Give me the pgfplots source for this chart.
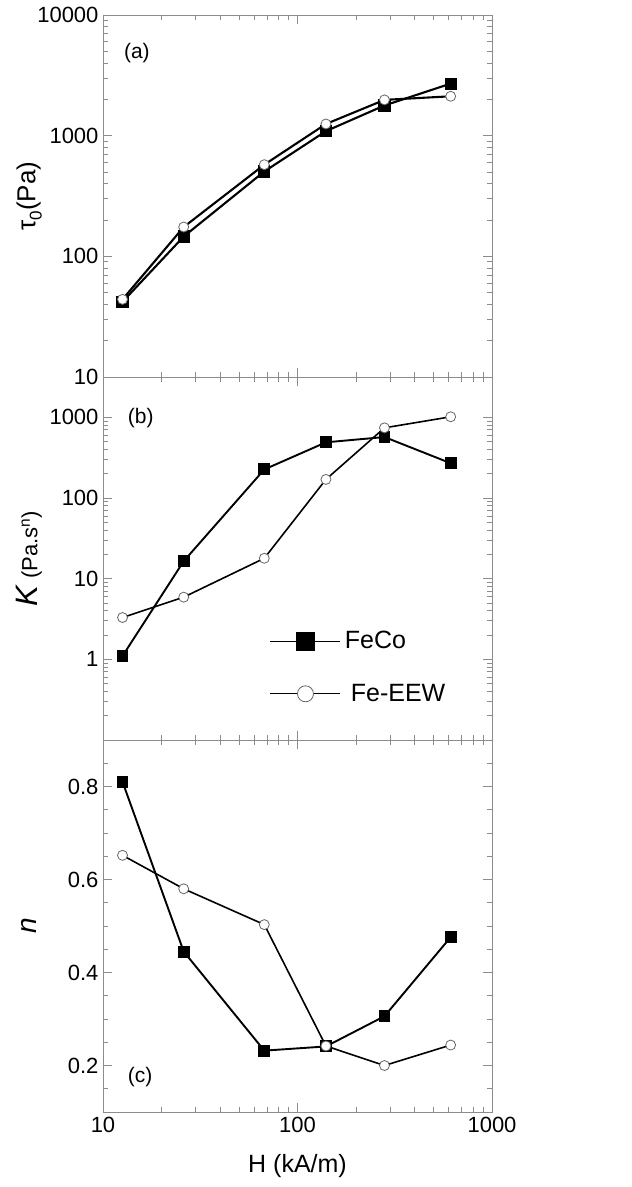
\documentclass[border=0pt]{standalone}
\usepackage{fontspec}
\setmainfont{Liberation Sans}
\usepackage{pgfplots}
\pgfplotsset{compat=1.18}
\definecolor{framegray}{gray}{0.55}
\pgfplotsset{
  panel/.style={
    scale only axis, width=389pt,
    xmin=10, xmax=1000,
    xtick={10,100,1000},
    axis line style={framegray, line width=1pt},
    tick style={framegray, line width=0.8pt},
    tick align=inside,
    major tick length=9pt, minor tick length=5pt,
    ticklabel style={font=\fontsize{22}{24}\selectfont, black},
    yticklabel style={xshift=-1pt},
    ylabel style={at={(axis description cs:-0.19,0.5)}, anchor=center},
    clip=false,
  },
  feco/.style={black, line width=1.9pt, mark=square*, mark size=5pt, mark options={solid, fill=black, draw=black},
    legend image code/.code={\draw[mark repeat=2, mark phase=2, ##1, line width=0.8pt, mark size=9pt] plot coordinates {(0pt,0pt) (35pt,0pt) (70pt,0pt)};}},
  eew/.style={black, line width=1.6pt, mark=*, mark size=5pt, mark options={solid, fill=white, draw=black!60, line width=0.8pt},
    legend image code/.code={\draw[mark repeat=2, mark phase=2, ##1, line width=0.8pt, mark size=8pt] plot coordinates {(0pt,0pt) (35pt,0pt) (70pt,0pt)};}},
}
\begin{document}
\begin{tikzpicture}
\useasboundingbox (-103pt,15pt) rectangle (529pt,-1172pt);
% ---------- (a)
\begin{axis}[xmode=log, ymode=log, panel, at={(0pt,0pt)}, anchor=north west, height=362pt,
  ymin=10, ymax=10000,
  ytick={10,100,1000,10000}, yticklabels={10,100,1000,10000},
  xticklabels={},
  ylabel={\fontsize{26}{28}\selectfont τ\raisebox{-0.45ex}{\fontsize{17}{17}\selectfont 0}(Pa)}]
\addplot[feco, line width=2.1pt] coordinates {(12.6,42) (26,146) (67.5,505) (140,1090) (280,1780) (613,2700)};
\addplot[eew, line width=2.1pt] coordinates {(12.6,44) (26,175) (67.5,575) (140,1250) (280,1980) (613,2120)};
\node[anchor=west, font=\fontsize{21}{24}\selectfont] at (axis description cs:0.045,0.895) {(a)};
\end{axis}
% ---------- (b)
\begin{axis}[xmode=log, ymode=log, panel, at={(0pt,-362pt)}, anchor=north west, height=363pt,
  ymin=0.1, ymax=3162,
  ytick={0.1,1,10,100,1000}, yticklabels={,1,10,100,1000},
  xticklabels={},
  ylabel={{\fontsize{31}{32}\selectfont\itshape K}\hspace{7pt}{\fontsize{22}{24}\selectfont(Pa.s\textsuperscript{n})}},
  legend style={at={(rel axis cs:0.429,0.305)}, anchor=north west, draw=none, fill=none, inner sep=0pt,
    font=\fontsize{25}{28}\selectfont, row sep=30pt, cells={anchor=west}},
  legend cell align=left]
\addplot[feco] coordinates {(12.6,1.1) (26,16.5) (67.5,226) (140,490) (280,570) (613,270)};
\addlegendentry{\hspace{2pt}FeCo}
\addplot[eew] coordinates {(12.6,3.3) (26,5.9) (67.5,17.9) (140,170) (280,741) (613,1016)};
\addlegendentry{\hspace{8pt}Fe-EEW}
\node[anchor=west, font=\fontsize{21}{24}\selectfont] at (axis description cs:0.055,0.887) {(b)};
\end{axis}
% ---------- (c)
\begin{axis}[xmode=log, panel, at={(0pt,-725pt)}, anchor=north west, height=372pt,
  ymin=0.1, ymax=0.9,
  ytick={0.2,0.4,0.6,0.8}, yticklabels={0.2,0.4,0.6,0.8},
  minor ytick={0.15,0.25,0.3,0.35,0.45,0.5,0.55,0.65,0.7,0.75,0.85},
  xticklabels={10,100,1000},
  xticklabel style={yshift=-2pt},
  xlabel={\fontsize{25}{28}\selectfont H (kA/m)},
  xlabel style={yshift=-14pt},
  ylabel={\fontsize{28}{30}\selectfont\itshape n}]
\addplot[feco] coordinates {(12.6,0.810) (26,0.445) (67.5,0.232) (140,0.241) (280,0.306) (613,0.476)};
\addplot[eew] coordinates {(12.6,0.652) (26,0.580) (67.5,0.503) (140,0.242) (280,0.200) (613,0.244)};
\node[anchor=west, font=\fontsize{21}{24}\selectfont] at (axis description cs:0.055,0.095) {(c)};
\end{axis}
\end{tikzpicture}
\end{document}
